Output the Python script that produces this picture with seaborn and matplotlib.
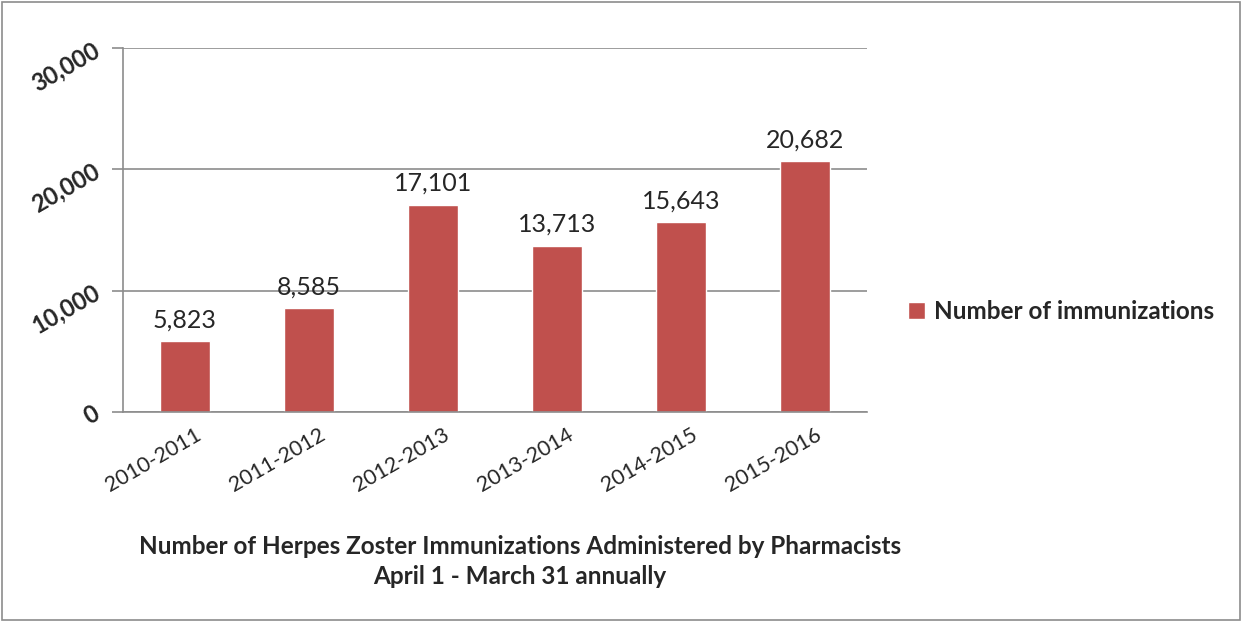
import matplotlib.pyplot as plt
import matplotlib.transforms as mtransforms
import seaborn as sns
import pandas as pd
import numpy as np

seasons = ['2010-2011', '2011-2012', '2012-2013', '2013-2014', '2014-2015', '2015-2016']
immunizations = [5823, 8585, 17101, 13713, 15643, 20682]
y_ticks = [0, 10000, 20000, 30000]

bar_color = '#C0504D'
grid_color = '#8C8C8C'

sns.set_style('white')
plt.rcParams['font.family'] = ['Lato', 'DejaVu Sans']

df = pd.DataFrame({'season': seasons, 'count': immunizations})

fig = plt.figure(figsize=(12.47, 6.22), dpi=100)
ax = fig.add_axes([0.0986, 0.3376, 0.5967, 0.5852])

sns.barplot(data=df, x='season', y='count', color=bar_color, width=0.4,
            saturation=1, ax=ax, label='Number of immunizations')

ax.set_xlim(-0.5, len(seasons) - 0.5)
ax.set_ylim(0, 30000)
ax.set_yticks(y_ticks)
ax.set_yticklabels([f'{v:,}' for v in y_ticks], rotation=30, ha='right', va='center',
                   rotation_mode='anchor', fontsize=17, fontweight='bold')
ax.grid(axis='y', color=grid_color, linewidth=1.2)
ax.set_axisbelow(True)

for s in ['top', 'right']:
    ax.spines[s].set_visible(False)
for s in ['left', 'bottom']:
    ax.spines[s].set_color(grid_color)
    ax.spines[s].set_linewidth(1.2)

ax.tick_params(axis='y', which='major', length=8, color=grid_color, width=1.2, direction='out', pad=10)

ax.set_xticks(np.arange(len(seasons)))
ax.set_xticklabels(seasons, rotation=30, ha='right', rotation_mode='anchor', fontsize=15.5)
ax.set_xticks(np.arange(len(seasons) + 1) - 0.5, minor=True)
ax.tick_params(axis='x', which='major', length=0, pad=9)
ax.tick_params(axis='x', which='minor', length=8, color=grid_color, width=1.2, direction='out')
ax.tick_params(left=True, bottom=True)

shift = mtransforms.ScaledTranslation(0.1, 0, fig.dpi_scale_trans)
for lbl in ax.get_xticklabels():
    lbl.set_transform(lbl.get_transform() + shift)

for i, v in enumerate(immunizations):
    ax.annotate(f'{v:,}', (i, v), xytext=(0, 7), textcoords='offset points',
                ha='center', va='bottom', fontsize=18)

ax.set_xlabel('')
ax.set_ylabel('')

ax.legend(loc='center left', bbox_to_anchor=(1.025, 0.277), frameon=False,
          handlelength=0.7, handleheight=0.7, handletextpad=0.4,
          prop={'weight': 'bold', 'size': 17.5})

fig.text(0.417, 0.097, 'Number of Herpes Zoster Immunizations Administered by Pharmacists\nApril 1 - March 31 annually',
         ha='center', va='center', fontsize=17.5, fontweight='bold', linespacing=1.35)

border = plt.Rectangle((0.002, 0.004), 0.992, 0.993, transform=fig.transFigure,
                       fill=False, edgecolor='#8C8C8C', linewidth=1.2)
fig.patches.append(border)

fig.savefig('out.png', dpi=100)
